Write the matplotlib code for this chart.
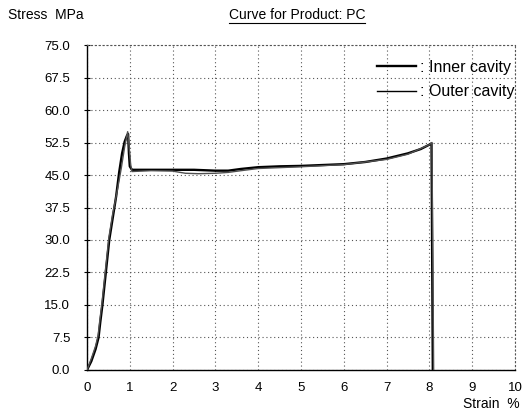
import numpy as np
import matplotlib
matplotlib.use('Agg')
import matplotlib.pyplot as plt
from matplotlib.lines import Line2D

# strain (%) / stress (MPa)
inner_strain = [0, 0.1, 0.2, 0.27, 0.31, 0.36, 0.44, 0.52, 0.6, 0.68, 0.75, 0.82, 0.88,
                0.93, 0.96, 0.98, 1.0, 1.05, 1.5, 2.0, 2.5, 3.0, 3.3, 3.6, 4.0,
                4.5, 5.0, 5.5, 6.0, 6.5, 7.0, 7.5, 7.8, 8.0, 8.05, 8.08]
inner_stress = [0, 2.0, 4.8, 7.5, 11.0, 15.0, 22.5, 30.0, 35.0, 40.0, 45.5, 50.0, 52.7,
                54.0, 54.5, 50.0, 47.0, 46.2, 46.2, 46.2, 46.2, 46.0, 46.0, 46.4, 46.8,
                47.0, 47.1, 47.3, 47.5, 48.0, 48.8, 50.0, 51.0, 52.0, 52.3, 0]

outer_strain = [0, 0.1, 0.2, 0.26, 0.3, 0.35, 0.43, 0.51, 0.6, 0.7, 0.8, 0.88, 0.95, 0.98,
                1.02, 1.05, 1.5, 2.0, 2.3, 2.6, 3.0, 3.3, 3.6, 4.0, 5.0, 6.0, 7.0, 7.5,
                8.0, 8.06, 8.1]
outer_stress = [0, 2.6, 5.5, 8.0, 11.5, 15.5, 23.0, 30.5, 36.0, 41.0, 46.5, 51.5, 55.0, 52.0,
                47.5, 45.8, 46.0, 45.9, 45.4, 45.3, 45.4, 45.6, 46.0, 46.5, 46.9, 47.4, 48.6,
                49.8, 52.0, 52.5, 0]

x_ticks = np.arange(0, 11, 1)
y_ticks = np.arange(0, 75.1, 7.5)

plt.rcParams['font.family'] = ['Liberation Sans Narrow', 'Liberation Sans', 'DejaVu Sans']
ft = 9.5

fig = plt.figure(figsize=(5.25, 4.16), dpi=100)
ax = fig.add_axes([0.1657, 0.1106, 0.8152, 0.7812])

ax.plot(inner_strain, inner_stress, color='black', lw=1.7, label=': Inner cavity', zorder=3)
ax.plot(outer_strain, outer_stress, color='#505050', lw=1.0, label=': Outer cavity', zorder=4)

ax.set_xlim(0, 10)
ax.set_ylim(0, 75)
ax.set_xticks(x_ticks)
ax.set_yticks(y_ticks)
ax.set_yticklabels(['%.1f' % v for v in y_ticks])
ax.tick_params(axis='x', length=0, pad=9, labelsize=ft)
ax.tick_params(axis='y', direction='inout', length=4, width=0.8, pad=10, labelsize=ft)

ax.grid(True, color='#555555', lw=0.8, linestyle=(0, (1, 2.5)))
for s in ['top', 'right']:
    ax.spines[s].set_linestyle((0, (1, 2.5)))
    ax.spines[s].set_color('#555555')
    ax.spines[s].set_linewidth(0.8)
for s in ['left', 'bottom']:
    ax.spines[s].set_linewidth(1.0)

leg = ax.legend(loc='upper right', bbox_to_anchor=(1.0, 0.955), frameon=False,
                fontsize=11.5, handlelength=2.4, handletextpad=0.3,
                labelspacing=0.6, borderaxespad=0, borderpad=0)
leg.legend_handles[1].set_color('black')

fig.text(8 / 525, 1 - 15 / 416, 'Stress  MPa', fontsize=ft + 0.5, ha='left', va='center')
fig.text(515 / 525 + 0.008, 1 - 404 / 416, 'Strain  %', fontsize=ft + 0.5, ha='right', va='center')
title = fig.text(297 / 525, 1 - 15 / 416, 'Curve for Product: PC', fontsize=ft + 0.5,
                 ha='center', va='center')

# underline the title
fig.canvas.draw()
bb = title.get_window_extent()
fig.add_artist(Line2D([bb.x0, bb.x1], [bb.y0 - 1, bb.y0 - 1], color='black', lw=0.8,
                      transform=None))

fig.savefig('out.png', dpi=100)
